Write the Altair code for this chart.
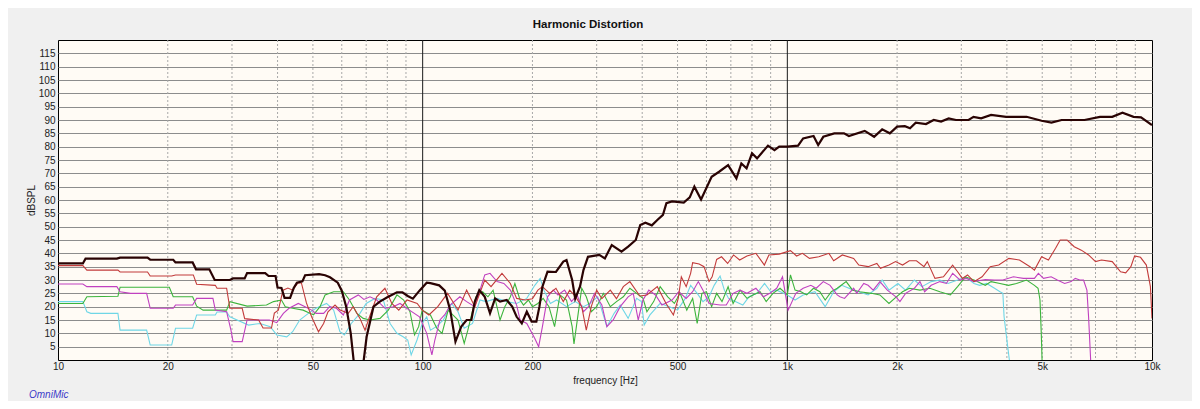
import altair as alt
import pandas as pd

# ---- data (frequency Hz, level dBSPL) ----
FUNDAMENTAL = [(10, 36.2), (11.7, 36.2), (11.9, 38), (14.5, 38), (14.8, 38.4), (17.6, 38.4), (17.9, 37.6),
    (20.7, 37.6), (21, 36.6), (23.4, 36.6), (23.9, 34), (26, 34), (26.9, 30), (29.6, 30), (30.2, 30.6),
    (32.5, 30.6), (33, 32.6), (37, 32.6), (37.8, 31.5), (39.5, 31.5), (40, 27.2), (41, 27), (41.8, 23.3),
    (43.3, 23.3), (44.3, 27), (45.2, 29), (46.8, 29.5), (47.6, 31.8), (52, 32.2), (54, 31.8), (55.7, 31),
    (58.5, 29), (60, 26), (61.7, 20), (63.5, 10), (65, -3), (68.5, -3), (70.2, 8.7), (73.3, 20), (76.3, 21.9),
    (80, 23.5), (85, 25.4), (88, 25.4), (91, 24), (94, 23), (98, 26), (102.6, 29), (105, 28.8), (111, 28),
    (115, 26), (119, 18.7), (123, 6.9), (127.6, 12.5), (132, 15), (136, 15), (139, 21.9), (143, 26.2),
    (148, 23.7), (153, 17.5), (158, 23.1), (163, 21.9), (170, 22.5), (176, 20), (181, 16.2), (187, 13.7),
    (193, 18.1), (199, 14.4), (205, 14.4), (209, 20), (213, 27.5), (220, 33.1), (232, 33), (243, 36.9),
    (248, 37.5), (257, 30), (262, 23), (270, 27.5), (276, 33.7), (284, 38.7), (305, 39.4), (316, 38.1),
    (330, 43.1), (351, 40.6), (366, 42.5), (384, 45), (395, 50.6), (408, 51.5), (425, 50.5), (440, 52.5),
    (456, 54.4), (466, 58.8), (483, 59.5), (520, 59), (540, 61), (556, 65), (580, 60.2), (620, 68.7),
    (650, 70.6), (688, 73.1), (725, 68.1), (748, 73.7), (773, 71.9), (800, 77.5), (826, 75.6), (885, 80.4),
    (922, 78.7), (950, 80), (1000, 80), (1070, 80.4), (1105, 83.1), (1180, 84), (1215, 80.6), (1255, 83.7),
    (1345, 85), (1430, 85), (1475, 84), (1630, 85.9), (1730, 83.7), (1820, 86.5), (1910, 85), (2000, 87.5),
    (2100, 87.7), (2170, 86.9), (2250, 89), (2400, 88.5), (2520, 90), (2640, 89.4), (2770, 90.6), (2900, 90),
    (3140, 90), (3240, 91.2), (3400, 90.6), (3620, 91.9), (3980, 91.2), (4530, 91.2), (4980, 89.7),
    (5300, 89), (5650, 90), (6530, 90), (7200, 91.2), (7780, 91.2), (8300, 92.7), (8900, 91.2), (9330, 91),
    (10000, 88.1)]

H_RED = [(10, 35.4), (11.7, 35.4), (12, 33.7), (14.6, 33.7), (14.8, 33), (17.6, 33), (17.9, 31.5),
    (20.5, 31.5), (21, 31.9), (23.5, 31.9), (24, 28.4), (27, 28), (27.3, 26.9), (29, 26.9), (29.6, 19.4),
    (32, 19.4), (32.5, 15.5), (35.5, 15), (36.5, 12), (38.5, 12), (39.2, 17.6), (40.2, 18.7), (41.4, 26.2),
    (42.7, 27), (44, 26.2), (45.5, 28.9), (46.5, 28.9), (48, 21.4), (49.6, 16.2), (51.8, 10.6), (53.5, 13.7),
    (55, 18.1), (57.5, 20.6), (59.4, 18.7), (62.5, 17.5), (64.5, 20), (67.3, 15.6), (69.5, 11.2), (71, 15),
    (74.8, 23.7), (78.8, 26.9), (82.3, 21.2), (86, 18.7), (90.6, 22.5), (96.6, 21.2), (99.7, 18.7),
    (104, 16.9), (110, 20), (117, 25), (125, 18.7), (132, 26.2), (139, 20), (148, 30), (154, 27.5),
    (165, 32.5), (174, 28.7), (181, 23.1), (191, 22.5), (200, 23), (207, 26.2), (213, 27.5), (223, 25),
    (232, 26.9), (243, 21.9), (253, 26.2), (262, 24), (273, 20), (281, 11.2), (290, 20), (300, 26.2),
    (310, 23), (327, 26.2), (340, 23), (355, 27.5), (370, 29.4), (394, 24), (412, 24.4), (440, 27.5),
    (465, 21.2), (487, 16.9), (502, 23), (512, 31.2), (528, 27.5), (543, 32.5), (550, 36.5), (573, 36),
    (591, 35), (610, 29.4), (622, 31.2), (640, 37.7), (660, 38.7), (686, 36.2), (712, 39.4), (740, 37.5),
    (775, 39), (820, 40), (865, 35.6), (890, 39.4), (950, 39.7), (1020, 41), (1060, 39), (1100, 40),
    (1150, 38.1), (1220, 38.7), (1300, 40), (1340, 37.2), (1415, 39.4), (1520, 38.1), (1570, 35.6),
    (1665, 35), (1760, 36.2), (1800, 34.4), (1900, 35.6), (1980, 36.9), (2070, 35.6), (2160, 37.2),
    (2260, 37.2), (2370, 35), (2420, 36.9), (2540, 30.6), (2680, 31.2), (2840, 35.6), (2930, 33.1),
    (3020, 30.6), (3120, 31.9), (3250, 29.4), (3420, 31.2), (3600, 35), (3800, 35.6), (4050, 38.1),
    (4330, 37.5), (4630, 35), (4760, 33.7), (4980, 38.7), (5200, 37.5), (5440, 41.9), (5600, 45),
    (5850, 45), (6120, 42.5), (6400, 41.2), (6700, 39.4), (7000, 36.9), (7270, 37.5), (7780, 36.9),
    (8200, 33.1), (8470, 32.7), (8750, 35), (8960, 39), (9300, 38.5), (9650, 35.6), (9900, 27.5),
    (10000, 15.6)]

H_MAGENTA = [(10, 28.5), (11.7, 28.5), (12, 27.5), (14.5, 27.5), (14.8, 25.6), (15.8, 25), (17.5, 25),
    (17.9, 19.4), (20.7, 19.4), (21, 20.6), (23.4, 20.6), (24, 23.1), (26.6, 23.1), (27, 18.7), (29, 18.1),
    (29.8, 11.2), (30.2, 6.9), (32, 6.9), (33, 15), (38, 15), (39.8, 14), (41.5, 17.5), (43, 19.4),
    (45.6, 21.2), (47.6, 20), (49.6, 18.7), (51, 17.5), (53.5, 17.5), (55.6, 20), (58, 19.4), (60.6, 16.9),
    (63, 22.5), (66.6, 24.4), (69, 22.7), (71.7, 23.7), (74.8, 22.5), (78.8, 19.4), (83, 20), (86.7, 21.2),
    (92, 18.7), (98, 16.2), (102.6, 10), (106, 1.9), (108, 7.5), (111.5, 15), (115, 17), (119, 20.6),
    (126.5, 23.7), (132, 21.9), (139, 20), (143.6, 26.2), (148, 31.9), (153, 32.5), (160, 29.4),
    (167, 28.7), (174, 26.2), (181, 20.6), (185, 15), (193, 13.7), (203, 8.1), (208, 5), (213, 12.5),
    (220, 23.7), (228, 26.2), (235, 24.4), (245, 26.2), (256, 21.9), (265, 24.4), (276, 18.1), (285, 20),
    (296, 25), (310, 20.6), (320, 12.5), (333, 15), (348, 20), (366, 23.7), (378, 25), (390, 15),
    (402, 22.5), (417, 26.2), (435, 24.4), (453, 20.6), (483, 22.5), (504, 25.6), (528, 23.1), (550, 25.6),
    (570, 29.4), (587, 26.2), (610, 21.2), (654, 20.6), (680, 20.6), (710, 25), (742, 26.2), (775, 25),
    (820, 26.9), (860, 23.7), (895, 25), (935, 26.9), (970, 31.2), (1005, 18.7), (1055, 25), (1105, 26.9),
    (1160, 28), (1200, 26.9), (1255, 29.4), (1310, 28), (1370, 24.4), (1394, 23.7), (1435, 23.1),
    (1520, 26.9), (1550, 25), (1620, 28.7), (1665, 28), (1720, 26.2), (1794, 29.4), (1880, 26.2),
    (1985, 23.7), (2036, 21.9), (2110, 25), (2230, 26.9), (2310, 29.4), (2380, 25.6), (2480, 28),
    (2620, 29.4), (2730, 28.7), (2840, 32.5), (2973, 30), (3100, 30.6), (3250, 29.4), (3490, 30.2),
    (3700, 30), (3900, 30), (4170, 31.2), (4440, 30.6), (4760, 30.6), (4880, 32.5), (5040, 30.6),
    (5290, 31.2), (5500, 30), (5760, 28.7), (6000, 29.4), (6160, 30.6), (6340, 30), (6490, 30),
    (6630, 26.2), (6700, 16.2), (6800, -2)]

H_GREEN = [(10, 21.2), (11.7, 21.2), (12, 23.7), (14.6, 23.9), (14.8, 27.3), (20.2, 27.3), (20.7, 23.7),
    (23.4, 23.7), (24, 20.2), (25, 18.7), (29, 18.7), (29.6, 21.9), (33, 20.2), (37.3, 20.6), (39, 21.9),
    (41, 22.5), (42, 20), (44, 19.4), (47, 18.7), (50.2, 16.9), (52.3, 20), (54, 24.4), (57, 25.6),
    (60.6, 25.6), (63, 22.5), (66, 17.5), (68.7, 15.6), (71.7, 15), (76.4, 15.6), (80.5, 18.7), (85, 24.4),
    (88.7, 22.5), (92.3, 18.1), (95, 9.4), (97.5, 12.5), (99.7, 18.7), (105, 16.9), (109.3, 11.9),
    (113, 10), (117.5, 18.7), (121, 16.9), (125, 15), (130, 6.2), (133, 11.2), (140, 23.7), (146, 25.6),
    (151, 23.7), (156, 26.2), (163, 15), (168, 20), (174, 23.7), (179, 28.7), (185, 22.5), (189, 20.6),
    (195, 22.5), (200, 20), (207, 21.2), (214, 23.1), (222, 20), (230, 12.5), (238, 24.4), (248, 22.5),
    (257, 12.5), (260, 6), (267, 17.5), (273, 26.9), (281, 23.7), (290, 18.1), (300, 20), (313, 25),
    (327, 20), (340, 21.9), (355, 23.7), (370, 26.9), (386, 25), (402, 23.1), (412, 18.1), (430, 21.9),
    (448, 27.5), (470, 23.7), (490, 21.2), (508, 25), (530, 18.7), (550, 23.1), (566, 13.7), (583, 25),
    (600, 25.6), (620, 20), (640, 25), (662, 21.9), (688, 27.5), (710, 21.2), (742, 26.2), (775, 23.1),
    (805, 24.4), (842, 25.6), (875, 21.9), (913, 25), (955, 26.9), (1000, 24.4), (1020, 31.9),
    (1050, 26.2), (1090, 25.6), (1130, 24.4), (1180, 26.9), (1228, 25.6), (1270, 22.5), (1320, 25.6),
    (1370, 26.9), (1450, 29.4), (1510, 26.2), (1580, 25.6), (1700, 25), (1794, 24.4), (1900, 21.2),
    (1990, 23.7), (2070, 25.6), (2160, 26.9), (2310, 26.2), (2460, 26.9), (2620, 25.6), (2800, 24.4),
    (2930, 27.5), (3080, 31.2), (3250, 30), (3490, 28), (3620, 29.4), (3830, 28.7), (4040, 28),
    (4250, 28.7), (4530, 30), (4760, 28), (4870, 26.9), (4930, 22.5), (4970, 10), (5000, -2)]

H_CYAN = [(10, 21.9), (11.7, 21.9), (12, 18.1), (12.3, 17.5), (14.6, 17.5), (14.8, 11.2), (17.5, 11.2),
    (17.9, 5.6), (20.5, 5.6), (21, 11.9), (23.4, 11.9), (24, 16.9), (27, 16.9), (27.3, 18), (29, 18),
    (29.6, 16.2), (33.3, 13.1), (35.8, 13.7), (38.2, 12.5), (39.8, 9.4), (42.4, 8.7), (44, 10.6), (46, 15),
    (48.6, 17.5), (51, 19.4), (54.5, 21.2), (57, 18.7), (59.3, 10.6), (61, 9.4), (63.7, 13.7), (67.3, 17.5),
    (70, 21.2), (74, 23.1), (78, 22.5), (81.4, 13.7), (85, 10), (88.4, 8.7), (91, 7.5), (93, 1.9),
    (96.5, 7.5), (99.7, 13.7), (102.6, 16.2), (105, 11.2), (109, 12.5), (114, 15), (120, 21.2),
    (125, 18.1), (130, 11.9), (137, 13.7), (143.6, 22.5), (149, 21.9), (160, 23.1), (170, 21.9),
    (181, 21.2), (193, 23.1), (203, 28), (210, 30.6), (215, 26.2), (224, 21.2), (233, 22.5), (248, 20),
    (262, 21.9), (276, 20), (287, 21.2), (302, 23.7), (320, 12.5), (335, 17.5), (348, 20.6), (366, 15.6),
    (386, 23.1), (398, 21.9), (405, 13.1), (420, 16.9), (448, 21.2), (475, 20), (500, 18.7), (525, 23.1),
    (543, 28), (566, 25), (587, 21.9), (610, 23.7), (630, 28), (654, 31.5), (672, 26.2), (690, 23.1),
    (720, 21.9), (755, 20.6), (785, 23.7), (825, 25), (866, 28.7), (900, 25.6), (935, 26.2), (1000, 24.4),
    (1050, 22.5), (1105, 24.4), (1190, 25.6), (1270, 20), (1340, 25.6), (1410, 28), (1520, 26.2),
    (1570, 25.6), (1665, 24.4), (1760, 26.9), (1820, 30), (1900, 26.2), (2010, 28.7), (2110, 26.2),
    (2230, 30), (2340, 27.5), (2480, 29.4), (2620, 30), (2760, 28.7), (2930, 30), (3080, 31.2),
    (3250, 28.7), (3370, 28), (3520, 28.7), (3700, 26.9), (3830, 25.6), (3900, 25), (3930, 16.2),
    (4000, 7.5), (4080, -2)]

SERIES_NAMES = ["H cyan", "H green", "H magenta", "H red", "Fundamental"]
SERIES_COLORS = ["#6FD6E6", "#3CB43C", "#C040C0", "#C23A3A", "#2A0303"]
SERIES_WIDTHS = [1.1, 1.1, 1.1, 1.1, 2.2]
SERIES_DATA = [H_CYAN, H_GREEN, H_MAGENTA, H_RED, FUNDAMENTAL]

Y_TICKS = list(range(5, 120, 5))
X_LABEL_TICKS = [10, 20, 50, 100, 200, 500, 1000, 2000, 5000, 10000]
MINOR_GRID = [20, 30, 40, 50, 60, 70, 80, 90, 200, 300, 400, 500, 600, 700, 800, 900,
              2000, 3000, 4000, 5000, 6000, 7000, 8000, 9000]
MAJOR_GRID = [100, 1000]

rows = []
for name, pts in zip(SERIES_NAMES, SERIES_DATA):
    for i, (f, v) in enumerate(pts):
        rows.append({"series": name, "f": f, "db": v, "i": i})
df = pd.DataFrame(rows)

W, H = 1094, 320
xscale = alt.Scale(type="log", domain=[10, 10000], nice=False)
yscale = alt.Scale(domain=[0, 120], nice=False)

x_axis = alt.Axis(
    values=X_LABEL_TICKS, tickCount=40, grid=False, ticks=False, domain=False, labelOverlap=False,
    labelExpr="datum.value >= 1000 ? format(datum.value / 1000, 'd') + 'k' : format(datum.value, 'd')",
    labelPadding=1, labelFontSize=10, labelColor="#222222", labelFont="Liberation Sans",
    title="frequency [Hz]", titleFontSize=10, titleFontWeight="normal", titleColor="#222222",
    titleFont="Liberation Sans", titleY=20, titleBaseline="middle", labelFlush=False,
)
y_axis = alt.Axis(
    values=Y_TICKS, tickCount=40, grid=True, gridColor="#8C8C8C", gridWidth=1, ticks=False, domain=False,
    labelOverlap=False, labelFlush=False,
    labelPadding=3, labelFontSize=10, labelColor="#222222", labelFont="Liberation Sans",
    title="dBSPL", titleFontSize=10, titleFontWeight="normal", titleColor="#222222",
    titleFont="Liberation Sans", titleX=-27, titleY=H / 2, titleAngle=-90, titleBaseline="middle",
    titleAlign="center",
)

base = alt.Chart(df)

# axes carrier (invisible)
axes = alt.Chart(pd.DataFrame({"f": [10, 10000], "db": [0, 120]})).mark_point(opacity=0).encode(
    x=alt.X("f:Q", scale=xscale, axis=x_axis),
    y=alt.Y("db:Q", scale=yscale, axis=y_axis),
)

minor = alt.Chart(pd.DataFrame({"f": MINOR_GRID})).mark_rule(
    color="#A8A8A8", strokeWidth=1, strokeDash=[2, 2]
).encode(x=alt.X("f:Q", scale=xscale))

major = alt.Chart(pd.DataFrame({"f": MAJOR_GRID})).mark_rule(
    color="#1A1A1A", strokeWidth=1
).encode(x=alt.X("f:Q", scale=xscale))

layers = [axes, minor, major]
for name, col, w in zip(SERIES_NAMES, SERIES_COLORS, SERIES_WIDTHS):
    layers.append(
        base.transform_filter(alt.datum.series == name).mark_line(
            color=col, strokeWidth=w, clip=True, interpolate="linear"
        ).encode(
            x=alt.X("f:Q", scale=xscale),
            y=alt.Y("db:Q", scale=yscale),
            order=alt.Order("i:Q"),
        )
    )

brand = alt.Chart(pd.DataFrame({"t": ["OmniMic"]})).mark_text(
    align="left", baseline="middle", fontSize=10, fontStyle="italic",
    font="Liberation Sans", color="#3A3AC8"
).encode(x=alt.value(-29), y=alt.value(355), text="t:N")
layers.append(brand)

chart = alt.layer(*layers).properties(
    width=W, height=H,
    title=alt.TitleParams(
        "Harmonic Distortion", fontSize=11.5, fontWeight="bold", font="Liberation Sans",
        color="#111111", anchor="middle", dx=-17, offset=7,
    ),
    padding={"left": 50, "top": 32, "right": 40, "bottom": 41},
    autosize=alt.AutoSizeParams(type="none"),
    background="#F0F0F0",
).configure_view(
    fill="#FFFBF5", stroke="#000000", strokeWidth=1
)

chart.save("out.html", embed_options={"renderer": "svg", "actions": False})
